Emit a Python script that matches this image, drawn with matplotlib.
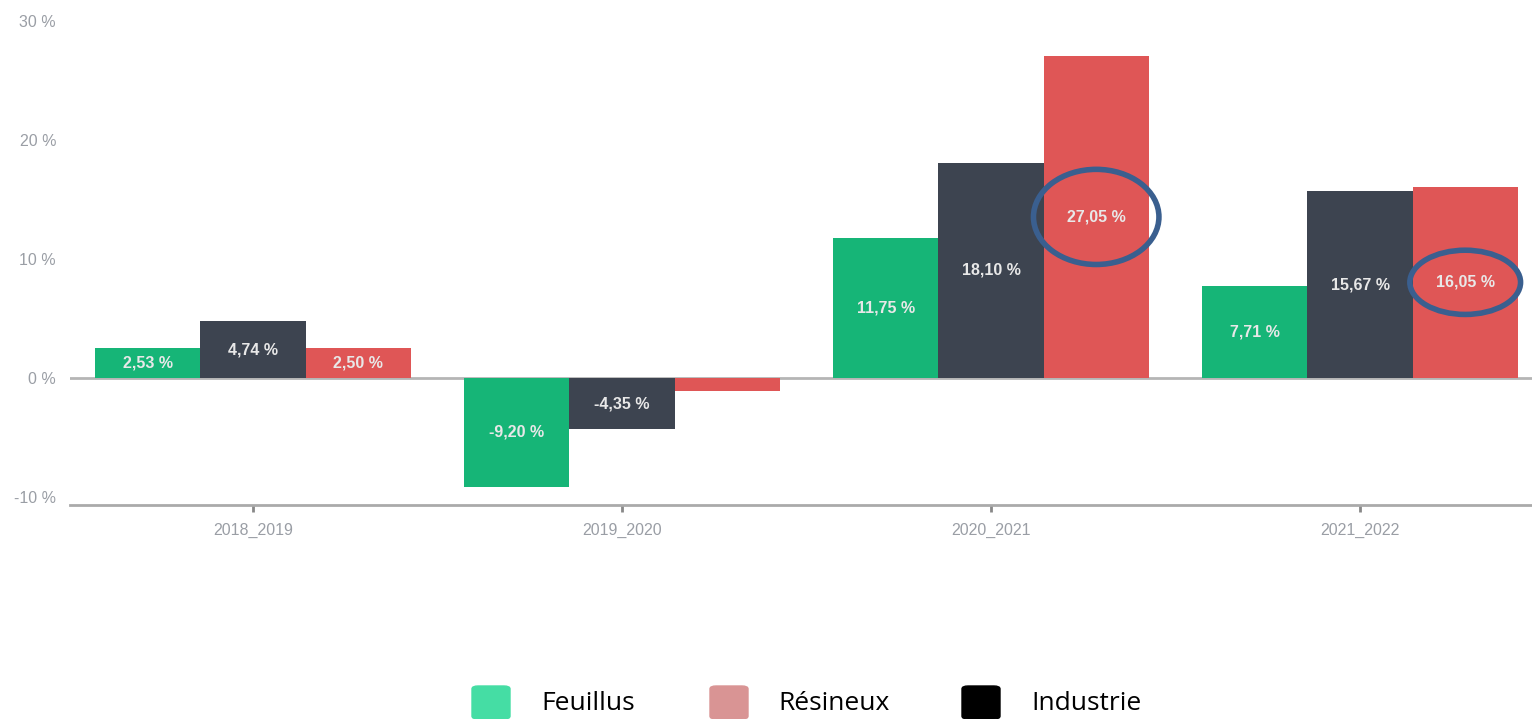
import numpy as np
import matplotlib
matplotlib.use("Agg")
import matplotlib.pyplot as plt
from matplotlib.patches import Ellipse, FancyBboxPatch

plt.rcParams["font.family"] = ["Liberation Sans", "DejaVu Sans"]

# growth per period, in %
periods = ["2018_2019", "2019_2020", "2020_2021", "2021_2022"]
feuillus = [2.53, -9.20, 11.75, 7.71]
industrie = [4.74, -4.35, 18.10, 15.67]
resineux = [2.50, -1.10, 27.05, 16.05]
# labels drawn on the bars (None = no label)
feuillus_lbl = ["2,53 %", "-9,20 %", "11,75 %", "7,71 %"]
industrie_lbl = ["4,74 %", "-4,35 %", "18,10 %", "15,67 %"]
resineux_lbl = ["2,50 %", None, "27,05 %", "16,05 %"]
yticks = [-10, 0, 10, 20, 30]
highlight = [(2, 27.05), (3, 16.05)]  # circled Résineux values

c_green = "#16b577"
c_dark = "#3d4450"
c_red = "#df5656"

fig = plt.figure(figsize=(15.32, 7.19), dpi=100)
ax = fig.add_axes([70 / 1532, 214 / 719, 1 - 70 / 1532, (505 - 21) / 719])

x = np.arange(len(periods))
w = 0.285
series = [(feuillus, feuillus_lbl, c_green, -w),
          (industrie, industrie_lbl, c_dark, 0),
          (resineux, resineux_lbl, c_red, w)]
for vals, lbls, col, off in series:
    bars = ax.bar(x + off, vals, w, color=col, zorder=2)
    for b, v, l in zip(bars, vals, lbls):
        if l is None:
            continue
        ax.text(b.get_x() + b.get_width() / 2, v / 2, l, ha="center", va="center",
                color="#e8e8e8", fontsize=11.5, fontweight="bold", zorder=3)

ax.axhline(0, color="#b5b5b5", lw=2, zorder=1)
ax.set_xlim(-0.496, 3.466)
ax.set_ylim(-10.7, 30)

ax.set_yticks(yticks)
ax.set_yticklabels([f"{t} %" for t in yticks])
ax.set_xticks(x)
ax.set_xticklabels(periods)
ax.tick_params(axis="y", length=0, pad=10, labelsize=11.5, labelcolor="#9a9ea5")
ax.tick_params(axis="x", length=5, width=2, color="#888888", pad=8,
               labelsize=11.5, labelcolor="#9a9ea5")
for s in ["top", "right", "left"]:
    ax.spines[s].set_visible(False)
ax.spines["bottom"].set_color("#aaaaaa")
ax.spines["bottom"].set_linewidth(2)

# circles around the Résineux values
for (gi, v), (ew, eh) in zip(highlight, [(0.34, 8.0), (0.30, 5.4)]):
    ax.add_patch(Ellipse((gi + w, v / 2), ew, eh, fill=False,
                         edgecolor="#3a5f8f", lw=4, zorder=4))

# legend at the bottom
leg = [("Feuillus", "#45dda4", 472, 541),
       ("Résineux", "#d99494", 710, 778),
       ("Industrie", "#000000", 962, 1031)]
for name, col, sx, tx in leg:
    fig.patches.append(FancyBboxPatch((sx / 1532, 0), 38 / 1532, 33 / 719,
                                      boxstyle="round,pad=0,rounding_size=0.004",
                                      transform=fig.transFigure, color=col))
    fig.text(tx / 1532, 16 / 719, name, fontsize=19, family="Open Sans",
             va="center", ha="left", color="black")

fig.savefig("out.png", dpi=100)
